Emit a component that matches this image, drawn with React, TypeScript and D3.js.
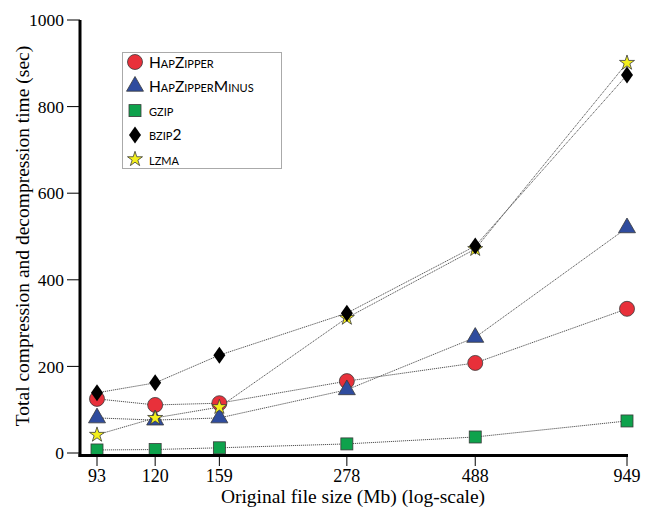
import React from 'react';
import * as d3 from 'd3';

// file sizes (Mb) and total compression + decompression time (sec)
const sizes = [93, 120, 159, 278, 488, 949];
const hapZipper = [125, 111, 115, 166, 208, 333];
const hapZipperMinus = [81, 76, 81, 146, 267, 520];
const gzip = [7, 8, 12, 21, 37, 74];
const bzip2 = [139, 162, 226, 323, 478, 873];
const lzma = [42, 81, 106, 312, 471, 901];
const yTicks = [0, 200, 400, 600, 800, 1000];

const W = 654;
const H = 511;

const x = d3.scaleLog().domain([93, 949]).range([97, 627]);
const y = d3.scaleLinear().domain([0, 1000]).range([453, 20]);

const serif = '"Liberation Serif", "Times New Roman", serif';
const sans = 'Lato, "Liberation Sans", sans-serif';

const diamond = 'M0,-8.5L6,0L0,8.5L-6,0Z';

const series = [
  { name: 'HapZipper', values: hapZipper, shape: 'circle', fill: '#e8303a' },
  { name: 'HapZipperMinus', values: hapZipperMinus, shape: 'triangle', fill: '#2f4c9e' },
  { name: 'gzip', values: gzip, shape: 'square', fill: '#0ea24c' },
  { name: 'bzip2', values: bzip2, shape: 'diamond', fill: '#000000' },
  { name: 'lzma', values: lzma, shape: 'star', fill: '#f3ef1c' },
];

// drawing order of markers (later on top)
const drawOrder = ['gzip', 'HapZipper', 'HapZipperMinus', 'lzma', 'bzip2'];

const Marker = ({ shape, fill, cx, cy }) => {
  const stroke = '#3a3a3a';
  if (shape === 'circle') return <circle cx={cx} cy={cy} r={7.5} fill={fill} stroke={stroke} strokeWidth={0.8} />;
  if (shape === 'square') return <rect x={cx - 6} y={cy - 6} width={12} height={12} fill={fill} stroke={stroke} strokeWidth={0.8} />;
  if (shape === 'diamond') return <path d={diamond} transform={`translate(${cx},${cy})`} fill={fill} />;
  const d = shape === 'triangle'
    ? d3.symbol().type(d3.symbolTriangle).size(125)()
    : d3.symbol().type(d3.symbolStar).size(70)();
  return <path d={d} transform={`translate(${cx},${cy})`} fill={fill} stroke={stroke} strokeWidth={0.8} />;
};

const line = d3.line<number>()
  .x((_, i) => x(sizes[i]))
  .y(d => y(d));

export default function App() {
  return (
    <svg width={W} height={H} style={{ position: 'absolute', left: 0, top: 0, background: '#fff' }}>
      {/* dotted connecting lines */}
      {series.map(s => (
        <path key={s.name} d={line(s.values)} fill="none" stroke="#555" strokeWidth={1} strokeDasharray="1.2,0.8" />
      ))}
      {/* markers */}
      {drawOrder.map(n => {
        const s = series.find(d => d.name === n);
        return (
          <g key={n}>
            {s.values.map((v, i) => (
              <Marker key={i} shape={s.shape} fill={s.fill} cx={x(sizes[i])} cy={y(v)} />
            ))}
          </g>
        );
      })}

      {/* axes */}
      <line x1={80} x2={80} y1={20} y2={457} stroke="#000" strokeWidth={3} />
      <line x1={78.5} x2={628} y1={455.5} y2={455.5} stroke="#000" strokeWidth={3} />
      {yTicks.map(t => (
        <g key={t}>
          <line x1={67} x2={80} y1={y(t)} y2={y(t)} stroke="#000" strokeWidth={1} />
          <text x={64} y={y(t)} dy="0.35em" textAnchor="end" fontFamily={serif} fontSize={17.5}>{t}</text>
        </g>
      ))}
      {sizes.map(t => (
        <g key={t}>
          <line x1={x(t)} x2={x(t)} y1={456} y2={466} stroke="#000" strokeWidth={1} />
          <text x={x(t)} y={482} textAnchor="middle" fontFamily={serif} fontSize={18}>{t}</text>
        </g>
      ))}
      <text x={353} y={503} textAnchor="middle" fontFamily={serif} fontSize={19.5}>Original file size (Mb) (log-scale)</text>
      <text transform="translate(29,236) rotate(-90)" textAnchor="middle" fontFamily={serif} fontSize={19.5}>
        Total compression and decompression time (sec)
      </text>

      {/* legend */}
      <rect x={122.5} y={52.5} width={159} height={116} fill="#fff" stroke="#aaa" strokeWidth={1} />
      {series.map((s, i) => {
        const cy = 62 + i * 24.3;
        return (
          <g key={s.name}>
            <Marker shape={s.shape} fill={s.fill} cx={135} cy={cy} />
            <text x={149} y={cy} dy="0.36em" fontFamily={sans} fontSize={15.5} style={{ fontVariant: 'small-caps' }}>{s.name}</text>
          </g>
        );
      })}
    </svg>
  );
}
